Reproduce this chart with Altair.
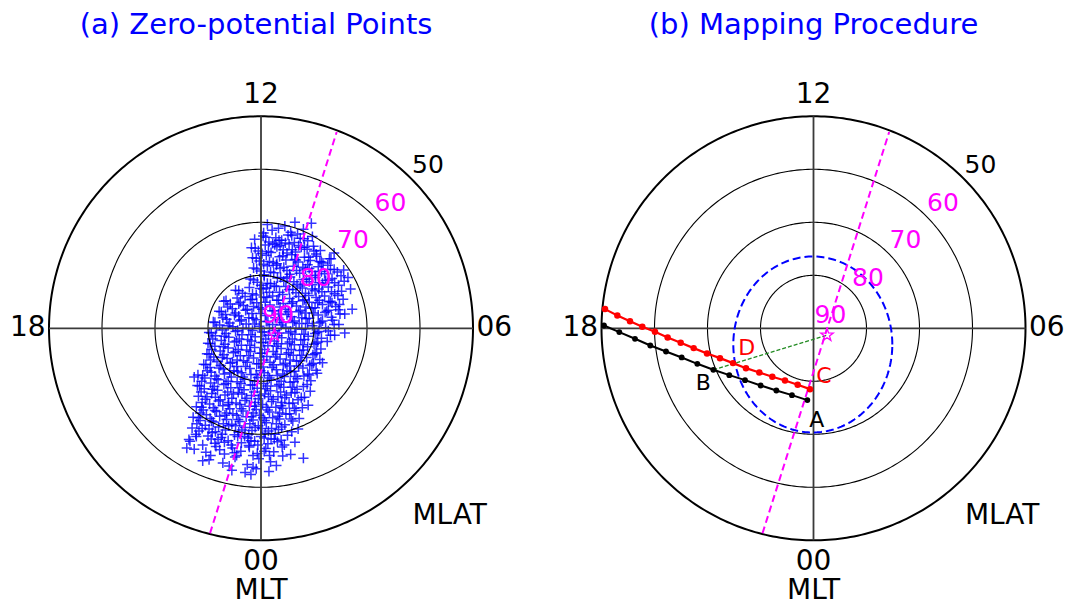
import altair as alt
import numpy as np
import pandas as pd

# ---------------- data ----------------
ring_mlat = [80, 70, 60, 50]
mlt_tick_hours = [12, 18, 0, 6]
mlt_tick_text = ["12", "18", "00", "06"]
mag_label_lat = [90, 80, 70, 60]      # magenta latitude labels
outer_label_lat = [50]                # black label

# Zero-potential points (panel a), position from the pole in degrees of colatitude
# east -> towards 06 MLT, north -> towards 12 MLT
zp_east = [
    6.4, 2.1, 4.5, 8.0, 0.5, 3.3, 5.6, 1.2,
    -1.2, 0.4, 1.5, 2.8, 3.9, 5.1, 6.3, 7.4, 8.8, 9.7, 2.2, 4.6, 6.9,
    -1.8, -0.5, 0.8, 1.9, 3.0, 4.2, 5.3, 6.5, 7.6, 8.7, 9.9, 11.2, 0.2, 2.6, 4.9, 7.1, 10.4,
    -1.6, -0.3, 1.0, 2.3, 3.5, 4.7, 5.8, 7.0, 8.2, 9.3, 10.5, 11.7, 12.9, 13.8, 0.5, 3.0, 6.4, 8.8, 11.1,
    -1.4, -0.1, 1.2, 2.4, 3.6, 4.9, 6.1, 7.3, 8.4, 9.6, 10.8, 12.0, 13.1, 14.4, 15.6, 0.6, 2.9, 5.4, 7.9, 10.2, 12.6,
    -2.0, -0.7, 0.6, 1.8, 3.1, 4.3, 5.5, 6.8, 8.0, 9.1, 10.3, 11.6, 12.8, 13.9, 15.1, 16.4, 0.0, 2.5, 4.9, 7.4, 9.7, 12.2, 14.6,
    -4.8, -3.5, -2.2, -0.9, 0.4, 1.6, 2.9, 4.1, 5.3, 6.6, 7.8, 9.0, 10.2, 11.5, 12.7, 13.9, 15.2, -3.0, -0.2, 2.2, 4.7, 7.1, 9.6, 12.0, 14.5,
    -7.0, -5.8, -4.5, -3.3, -2.0, -0.8, 0.5, 1.7, 3.0, 4.2, 5.4, 6.7, 7.9, 9.1, 10.4, 11.6, 12.8, 14.1, 15.5, -6.3, -3.9, -1.4, 1.1, 3.6, 6.0, 8.5, 11.0, 13.4,
    -7.9, -6.7, -5.4, -4.2, -2.9, -1.7, -0.4, 0.8, 2.1, 3.3, 4.6, 5.8, 7.1, 8.3, 9.6, 10.8, 12.1, 13.3, 14.6, 15.8, -7.2, -4.8, -2.3, 0.2, 2.7, 5.2, 7.7, 10.2, 12.7,
    -9.0, -7.8, -6.5, -5.3, -4.0, -2.8, -1.5, -0.3, 1.0, 2.2, 3.5, 4.7, 6.0, 7.2, 8.5, 9.7, 11.0, 12.2, 13.5, 14.7, -8.4, -5.9, -3.4, -0.9, 1.6, 4.1, 6.6, 9.1, 11.6,
    -9.8, -8.6, -7.3, -6.1, -4.8, -3.6, -2.3, -1.1, 0.2, 1.4, 2.7, 3.9, 5.2, 6.4, 7.7, 8.9, 10.2, 11.4, 12.7, 13.9, -9.1, -6.6, -4.1, -1.6, 0.9, 3.4, 5.9, 8.4, 10.9,
    -10.0, -8.7, -7.5, -6.2, -5.0, -3.7, -2.5, -1.2, 0.0, 1.3, 2.5, 3.8, 5.0, 6.3, 7.5, 8.8, 10.0, 11.3, 12.5, -9.3, -6.8, -4.3, -1.8, 0.7, 3.2, 5.7, 8.2, 10.7,
    -10.2, -8.9, -7.7, -6.4, -5.2, -3.9, -2.7, -1.4, -0.2, 1.1, 2.3, 3.6, 4.8, 6.1, 7.3, 8.6, 9.8, 11.1, -9.5, -7.0, -4.5, -2.0, 0.5, 3.0, 5.5, 8.0, 10.5,
    -10.8, -9.6, -8.3, -7.1, -5.8, -4.6, -3.3, -2.1, -0.8, 0.4, 1.7, 2.9, 4.2, 5.4, 6.7, 7.9, 9.2, 10.4, 11.6, -10.1, -7.6, -5.1, -2.6, -0.1, 2.4, 4.9, 7.4, 9.9,
    -11.9, -10.6, -9.4, -8.1, -6.9, -5.6, -4.4, -3.1, -1.9, -0.6, 0.6, 1.9, 3.1, 4.4, 5.6, 6.9, 8.1, 9.4, 10.6, -11.2, -8.7, -6.2, -3.7, -1.2, 1.3, 3.8, 6.3, 8.8,
    -12.0, -10.7, -9.5, -8.2, -7.0, -5.7, -4.5, -3.2, -2.0, -0.7, 0.5, 1.8, 3.0, 4.3, 5.5, 6.8, 8.0, 9.3, -11.3, -8.8, -6.3, -3.8, -1.3, 1.2, 3.7, 6.2, 8.7,
    -11.8, -10.5, -9.3, -8.0, -6.8, -5.5, -4.3, -3.0, -1.8, -0.5, 0.7, 2.0, 3.2, 4.5, 5.7, 7.0, 8.2, -11.1, -8.6, -6.1, -3.6, -1.1, 1.4, 3.9, 6.4,
    -12.2, -10.9, -9.7, -8.4, -7.2, -5.9, -4.7, -3.4, -2.2, -0.9, 0.3, 1.6, 2.8, 4.1, 5.3, 6.6, 7.8, 8.9, -11.5, -9.0, -6.5, -4.0, -1.5, 1.0, 3.5, 6.0,
    -12.8, -11.5, -10.3, -9.0, -7.8, -6.5, -5.3, -4.0, -2.8, -1.5, -0.3, 1.0, 2.2, 3.5, 4.7, 6.0, 7.2, -12.1, -9.6, -7.1, -4.6, -2.1, 0.4, 2.9, 5.4,
    -13.0, -11.7, -10.5, -9.2, -8.0, -6.7, -5.5, -4.2, -3.0, -1.7, -0.5, 0.8, 2.0, 3.3, 4.5, 5.8, 7.0, -12.3, -9.8, -7.3, -4.8, -2.3, 0.2, 2.7,
    -13.6, -12.2, -10.0, -8.7, -7.5, -6.2, -5.0, -3.7, -2.5, -1.2, 0.0, 1.3, 2.5, 3.8, 5.0, 6.4, -11.0, -8.1, -5.6, -3.1, -0.6, 1.9, 4.4,
    -12.6, -10.4, -8.5, -6.9, -5.4, -3.8, -2.3, -0.7, 0.9, 2.4, 4.0, 5.6, -9.5, -4.6, -1.5, 1.6,
    -9.8, -7.2, -4.9, -2.6, -0.4, 1.8, 4.1, -6.0, -1.5, 2.9,
    -5.5, -3.0, -0.9, 1.5, -1.9,
    -12.6, -13.4, -14.0, 16.9, 17.2, 15.8, 9.5, -11.0, 8.0,
    0.9, 3.4, 5.8, 8.1,
    -1.1, 1.4, 3.6, 5.9, 8.2, 10.0,
    -0.9, 1.6, 4.1, 6.6, 9.0, 11.4, 13.2,
    -0.8, 1.8, 4.3, 6.7, 9.1, 11.4, 13.8,
    -1.4, 1.2, 3.7, 6.2, 8.6, 11.0, 13.4, 15.7,
    -4.2, -1.6, 1.0, 3.5, 6.0, 8.4, 10.9, 13.3,
    -6.6, -4.2, -1.7, 0.8, 3.3, 5.8, 8.2, 10.7, 13.1, 14.8,
    -7.5, -5.0, -2.6, -0.1, 2.4, 4.9, 7.4, 9.9, 12.4, 14.9,
    -8.7, -6.2, -3.7, -1.2, 1.3, 3.8, 6.3, 8.8, 11.3, 13.8,
    -9.4, -6.9, -4.4, -1.9, 0.6, 3.1, 5.6, 8.1, 10.6, 13.1,
    -9.6, -7.1, -4.6, -2.1, 0.4, 2.9, 5.4, 7.9, 10.4,
    -9.8, -7.3, -4.8, -2.3, 0.2, 2.7, 5.2, 7.7, 10.2,
    -10.4, -7.9, -5.4, -2.9, -0.4, 2.1, 4.6, 7.1, 9.6,
    -11.0, -8.4, -5.9, -3.4, -0.9, 1.6, 4.1, 6.6, 9.1,
    -11.6, -9.1, -6.6, -4.1, -1.6, 0.9, 3.4, 5.9,
    -10.2, -7.7, -5.2, -2.7, -0.2, 2.3, 4.8, 7.6,
    -11.2, -8.7, -6.2, -3.7, -1.2, 1.3, 3.8, 6.3,
    -11.8, -9.3, -6.8, -4.3, -1.8, 0.7, 3.2, 5.7,
    -11.1, -8.6, -6.1, -3.6, -1.1, 1.4, 3.9,
    -9.4, -6.9, -4.4, -1.9, 0.6, 3.1,
    -7.8, -5.0, -2.2, 0.6,
]
zp_north = [
    20.0, 18.5, 19.3, 18.7, 18.0, 18.9, 18.1, 19.6,
    16.8, 17.4, 16.3, 17.1, 16.6, 17.6, 16.2, 17.0, 16.5, 17.3, 16.0, 16.1, 17.8,
    15.2, 14.6, 15.7, 14.3, 15.4, 14.8, 15.9, 14.4, 15.3, 14.9, 15.5, 14.7, 14.1, 15.8, 14.2, 15.6, 14.0,
    13.3, 12.7, 13.8, 12.4, 13.5, 12.9, 13.9, 12.5, 13.4, 12.8, 13.6, 12.3, 13.1, 14.2, 12.1, 12.2, 13.0, 12.0, 12.6,
    11.4, 10.8, 11.8, 10.5, 11.3, 10.9, 11.7, 10.4, 11.2, 10.7, 11.6, 10.3, 11.1, 10.6, 11.0, 10.1, 11.9, 10.2, 11.5, 10.0, 11.9,
    9.3, 8.7, 9.8, 8.4, 9.5, 8.9, 9.7, 8.3, 9.2, 8.8, 9.6, 8.5, 9.1, 8.6, 9.9, 9.6, 8.1, 8.0, 9.4, 8.0, 8.2, 9.0, 8.1,
    7.2, 6.6, 7.7, 6.3, 7.4, 6.8, 7.9, 6.4, 7.3, 6.7, 7.6, 6.2, 7.1, 6.9, 7.8, 6.5, 7.0, 6.0, 7.5, 6.1, 7.9, 6.0, 7.4, 6.1, 6.2,
    5.1, 4.6, 5.7, 4.3, 5.4, 4.8, 5.9, 4.4, 5.3, 4.7, 5.6, 4.2, 5.2, 4.9, 5.8, 4.5, 5.0, 4.1, 5.5, 4.0, 4.9, 4.1, 5.8, 4.0, 5.0, 4.0, 5.3, 4.8,
    3.2, 2.6, 3.7, 2.3, 3.4, 2.8, 3.9, 2.4, 3.3, 2.7, 3.6, 2.2, 3.1, 2.9, 3.8, 2.5, 3.0, 2.1, 3.5, 2.7, 2.0, 2.9, 2.0, 3.6, 2.0, 3.1, 2.0, 3.9, 3.4,
    1.2, 0.6, 1.7, 0.3, 1.4, 0.8, 1.9, 0.4, 1.3, 0.7, 1.6, 0.2, 1.1, 0.9, 1.8, 0.5, 1.0, 0.1, 1.5, 0.7, 0.0, 1.0, 0.0, 1.6, 0.0, 1.1, 0.0, 1.9, 1.4,
    -0.8, -1.4, -0.3, -1.7, -0.6, -1.2, -0.1, -1.6, -0.7, -1.3, -0.4, -1.8, -0.9, -1.1, -0.2, -1.5, -1.0, -1.9, -0.5, -1.3, -2.0, -1.0, -2.0, -0.4, -2.0, -0.9, -2.0, -0.1, -0.6,
    -2.8, -3.4, -2.3, -3.7, -2.6, -3.2, -2.1, -3.6, -2.7, -3.3, -2.4, -3.8, -2.9, -3.1, -2.2, -3.5, -3.0, -3.9, -2.5, -4.0, -3.0, -4.0, -2.4, -4.0, -2.9, -4.0, -2.1, -2.6,
    -4.8, -5.4, -4.3, -5.7, -4.6, -5.2, -4.1, -5.6, -4.7, -5.3, -4.4, -5.8, -4.9, -5.1, -4.2, -5.5, -5.0, -5.9, -6.0, -5.0, -6.0, -4.4, -6.0, -4.9, -6.0, -4.1, -4.6,
    -6.8, -7.4, -6.3, -7.7, -6.6, -7.2, -6.1, -7.6, -6.7, -7.3, -6.4, -7.8, -6.9, -7.1, -6.2, -7.5, -7.0, -7.9, -6.5, -8.0, -7.0, -8.0, -6.4, -8.0, -6.9, -8.0, -6.1, -6.6,
    -8.8, -9.4, -8.3, -9.7, -8.6, -9.2, -8.1, -9.6, -8.7, -9.3, -8.4, -9.8, -8.9, -9.1, -8.2, -9.5, -9.0, -9.9, -8.5, -10.0, -9.0, -10.0, -8.4, -10.0, -8.9, -10.0, -8.1, -8.6,
    -10.8, -11.4, -10.3, -11.7, -10.6, -11.2, -10.1, -11.6, -10.7, -11.3, -10.4, -11.8, -10.9, -11.1, -10.2, -11.5, -11.0, -11.9, -12.0, -11.0, -12.0, -10.4, -12.0, -10.9, -12.0, -10.1, -10.6,
    -12.8, -13.4, -12.3, -13.7, -12.6, -13.2, -12.1, -13.6, -12.7, -13.3, -12.4, -13.8, -12.9, -13.1, -12.2, -13.5, -13.0, -14.0, -13.0, -14.0, -12.4, -14.0, -12.9, -14.0, -12.1,
    -14.8, -15.4, -14.3, -15.7, -14.6, -15.2, -14.1, -15.6, -14.7, -15.3, -14.4, -15.8, -14.9, -15.1, -14.2, -15.5, -15.0, -14.5, -16.0, -15.0, -16.0, -14.4, -16.0, -14.9, -16.0, -14.1,
    -16.8, -17.4, -16.3, -17.7, -16.6, -17.2, -16.1, -17.6, -16.7, -17.3, -16.4, -17.8, -16.9, -17.1, -16.2, -17.5, -17.0, -18.0, -17.0, -18.0, -16.4, -18.0, -16.9, -18.0, -16.1,
    -18.8, -19.4, -18.3, -19.7, -18.6, -19.2, -18.1, -19.6, -18.7, -19.3, -18.4, -19.8, -18.9, -19.1, -18.2, -19.5, -19.0, -20.0, -19.0, -20.0, -18.4, -20.0, -18.9, -20.0,
    -21.0, -20.4, -20.3, -21.7, -20.6, -21.2, -20.1, -21.6, -20.7, -21.3, -20.4, -21.8, -20.9, -21.1, -20.2, -21.5, -22.0, -21.0, -22.0, -20.4, -22.0, -20.9, -22.0,
    -22.8, -23.4, -22.3, -23.7, -22.6, -23.2, -22.1, -23.6, -22.7, -23.3, -22.4, -23.8, -24.0, -24.0, -24.0, -24.0,
    -24.8, -25.4, -24.3, -25.7, -24.6, -25.2, -24.1, -26.0, -26.2, -25.9,
    -26.8, -27.2, -26.5, -27.0, -27.6,
    -9.2, -21.3, -22.6, 7.4, 3.6, -0.9, 19.8, -25.0, -24.5,
    17.2, 16.6, 17.5, 16.9,
    15.1, 14.5, 15.6, 14.8, 15.3, 14.6,
    13.2, 12.6, 13.7, 12.9, 13.4, 12.5, 13.1,
    11.2, 10.6, 11.5, 10.9, 11.3, 10.7, 11.1,
    9.1, 8.5, 9.6, 8.8, 9.3, 8.6, 9.4, 8.9,
    7.1, 6.5, 7.6, 6.8, 7.3, 6.6, 7.4, 6.9,
    5.2, 4.6, 5.5, 4.9, 5.3, 4.7, 5.4, 4.8, 5.1, 4.5,
    3.1, 2.5, 3.6, 2.8, 3.3, 2.6, 3.4, 2.9, 3.2, 2.7,
    1.1, 0.5, 1.6, 0.8, 1.3, 0.6, 1.4, 0.9, 1.2, 0.7,
    -0.9, -1.5, -0.4, -1.2, -0.7, -1.4, -0.6, -1.1, -0.8, -1.3,
    -2.9, -3.5, -2.4, -3.2, -2.7, -3.4, -2.6, -3.1, -2.8,
    -4.9, -5.5, -4.4, -5.2, -4.7, -5.4, -4.6, -5.1, -4.8,
    -6.9, -7.5, -6.4, -7.2, -6.7, -7.4, -6.6, -7.1, -6.8,
    -8.9, -9.5, -8.4, -9.2, -8.7, -9.4, -8.6, -9.1, -8.8,
    -10.9, -11.5, -10.4, -11.2, -10.7, -11.4, -10.6, -11.1,
    -12.9, -13.5, -12.4, -13.2, -12.7, -13.4, -12.6, -13.1,
    -14.9, -15.5, -14.4, -15.2, -14.7, -15.4, -14.6, -15.1,
    -16.9, -17.5, -16.4, -17.2, -16.7, -17.4, -16.6, -17.1,
    -18.9, -19.5, -18.4, -19.2, -18.7, -19.4, -18.6,
    -20.9, -21.5, -20.4, -21.2, -20.7, -21.4,
    -22.9, -23.5, -22.4, -23.2,
]

# pole of the magenta coordinate system and its meridian (same in both panels)
pole_east, pole_north = [2.55], [-1.28]
meridian_east = [-9.62, 14.28]
meridian_north = [-38.68, 37.04]

# panel b: mapped tracks
red_east = [-39.34, -37.01, -34.62, -32.30, -29.91, -27.52, -25.06, -22.61, -20.09,
            -17.64, -15.19, -12.74, -10.22, -7.77, -5.38, -2.99, -0.66]
red_north = [3.62, 2.42, 1.35, 0.28, -0.66, -1.73, -2.74, -3.74, -4.75,
             -5.63, -6.57, -7.52, -8.33, -9.15, -9.84, -10.66, -11.48]
black_east = [-39.53, -36.64, -33.68, -30.79, -27.83, -24.87, -21.92, -18.90,
              -15.88, -12.92, -9.97, -7.01, -4.06, -1.16]
black_north = [0.53, -0.72, -1.98, -3.24, -4.37, -5.50, -6.70, -7.83,
               -8.84, -9.78, -10.79, -11.73, -12.61, -13.55]
blue_center = [-0.13, -3.05]
blue_radii = [15.0, 16.6]
point_letters = ["D", "C", "B", "A"]
letter_east = [-12.6, 1.98, -20.8, 0.6]
letter_north = [-3.74, -9.09, -10.34, -17.26]
letter_colors = ["#ff0000", "#ff0000", "#000000", "#000000"]

titles = ["(a) Zero-potential Points", "(b) Mapping Procedure"]
title_east = [-0.94, 0.0]

# ---------------- layout ----------------
PX = 5.3            # pixels per degree of colatitude
W, H = 534, 607
CY = 328.3
FONT = "DejaVu Sans"
dom_y = [-(H - CY) / PX, CY / PX]


def xy(cx):
    return dict(
        x=alt.X("x:Q", scale=alt.Scale(domain=[-cx / PX, (W - cx) / PX], nice=False, zero=False), axis=None),
        y=alt.Y("y:Q", scale=alt.Scale(domain=dom_y, nice=False, zero=False), axis=None),
    )


th = np.linspace(0, 2 * np.pi, 361)
ring_rows = []
for lat in ring_mlat:
    r = 90 - lat
    for i, t in enumerate(th):
        ring_rows.append(dict(ring=lat, i=i, x=r * np.cos(t), y=r * np.sin(t)))
rings = pd.DataFrame(ring_rows)
axes_df = pd.DataFrame(dict(x=[-40, 0], x2=[40, 0], y=[0, -40], y2=[0, 40]))

ang = [np.deg2rad((h - 6) * 15) for h in mlt_tick_hours]
ticks_df = pd.DataFrame(dict(x=[44 * np.cos(a) for a in ang], y=[44 * np.sin(a) for a in ang], t=mlt_tick_text))
axis_names = pd.DataFrame(dict(x=[0, 35.6], y=[-49.65, -35.4], t=["MLT", "MLAT"]))

d45 = np.deg2rad(45)
mag_df = pd.DataFrame(dict(x=[(90 - v + 4) * np.cos(d45) for v in mag_label_lat],
                           y=[(90 - v + 4) * np.sin(d45) for v in mag_label_lat],
                           t=[str(v) for v in mag_label_lat]))
outer_df = pd.DataFrame(dict(x=[(90 - v + 4) * np.cos(d45) for v in outer_label_lat],
                             y=[(90 - v + 4) * np.sin(d45) for v in outer_label_lat],
                             t=[str(v) for v in outer_label_lat]))
meridian_df = pd.DataFrame(dict(x=meridian_east, y=meridian_north, i=[0, 1]))
pole_df = pd.DataFrame(dict(x=pole_east, y=pole_north))

STAR = ("M0,-1L0.236,-0.324L0.951,-0.309L0.382,0.124L0.588,0.809L0,0.4"
        "L-0.588,0.809L-0.382,0.124L-0.951,-0.309L-0.236,-0.324Z")
PLUS = "M-1,0L1,0M0,-1L0,1"


def common_layers(cx):
    e = xy(cx)
    inner = alt.Chart(rings[rings.ring != 50]).mark_line(color="black", strokeWidth=1.1).encode(
        **e, detail="ring:N", order=alt.Order("i:Q"))
    outer = alt.Chart(rings[rings.ring == 50]).mark_line(color="black", strokeWidth=2).encode(
        **e, detail="ring:N", order=alt.Order("i:Q"))
    axes = alt.Chart(axes_df).mark_rule(color="#3a3a3a", strokeWidth=1.8).encode(
        **e, x2="x2:Q", y2="y2:Q")
    return inner, outer, axes


def text_layers(cx, k):
    e = xy(cx)
    ticks = alt.Chart(ticks_df).mark_text(font=FONT, fontSize=28, color="black", align="center",
                                          baseline="middle").encode(**e, text="t:N")
    names = alt.Chart(axis_names).mark_text(font=FONT, fontSize=28, color="black", align="center",
                                            baseline="middle").encode(**e, text="t:N")
    mag = alt.Chart(mag_df).mark_text(font=FONT, fontSize=25, color="#ff00ff", align="center",
                                      baseline="middle", dx=2, dy=2).encode(**e, text="t:N")
    out = alt.Chart(outer_df).mark_text(font=FONT, fontSize=25, color="black", align="center",
                                        baseline="middle", dx=2, dy=2).encode(**e, text="t:N")
    tdf = pd.DataFrame(dict(x=[title_east[k]], y=[57.3], t=[titles[k]]))
    title = alt.Chart(tdf).mark_text(font=FONT, fontSize=29, color="#0000ff", align="center",
                                     baseline="middle").encode(**e, text="t:N")
    return ticks, names, mag, out, title


def meridian_layers(cx):
    e = xy(cx)
    mer = alt.Chart(meridian_df).mark_line(color="#ff00ff", strokeWidth=2, strokeDash=[7, 4]).encode(
        **e, order=alt.Order("i:Q"))
    star = alt.Chart(pole_df).mark_point(shape=STAR, size=170, filled=False, color="#ff00ff",
                                         strokeWidth=1.3, opacity=1).encode(**e)
    return mer, star


# ---- panel (a) ----
CXA = 261.0
ea = xy(CXA)
zp_df = pd.DataFrame(dict(x=zp_east, y=zp_north))
scatter = alt.Chart(zp_df).mark_point(shape=PLUS, size=105, filled=False, color="#0000ff",
                                      strokeWidth=1.5, opacity=0.8).encode(**ea)
inner_a, outer_a, axes_a = common_layers(CXA)
mer_a, star_a = meridian_layers(CXA)
ticks_a, names_a, mag_a, out_a, title_a = text_layers(CXA, 0)
panel_a = alt.layer(scatter, inner_a, outer_a, axes_a, mer_a, star_a, mag_a, out_a,
                    ticks_a, names_a, title_a).properties(width=W, height=H)

# ---- panel (b) ----
CXB = 813.5 - W
eb = xy(CXB)
inner_b, outer_b, axes_b = common_layers(CXB)
mer_b, star_b = meridian_layers(CXB)
ticks_b, names_b, mag_b, out_b, title_b = text_layers(CXB, 1)

ell_t = np.linspace(0, 2 * np.pi, 241)
ell_df = pd.DataFrame(dict(x=blue_center[0] + blue_radii[0] * np.cos(ell_t),
                           y=blue_center[1] + blue_radii[1] * np.sin(ell_t),
                           i=range(len(ell_t))))
ellipse = alt.Chart(ell_df).mark_line(color="#0000ff", strokeWidth=2, strokeDash=[8, 4]).encode(
    **eb, order=alt.Order("i:Q"))
green_df = pd.DataFrame(dict(x=[black_east[7], pole_east[0]], y=[black_north[7], pole_north[0]], i=[0, 1]))
green = alt.Chart(green_df).mark_line(color="#228b22", strokeWidth=1.3, strokeDash=[4, 2]).encode(
    **eb, order=alt.Order("i:Q"))
black_df = pd.DataFrame(dict(x=black_east, y=black_north, i=range(len(black_east))))
red_df = pd.DataFrame(dict(x=red_east, y=red_north, i=range(len(red_east))))
black_line = alt.Chart(black_df).mark_line(color="black", strokeWidth=2).encode(**eb, order=alt.Order("i:Q"))
black_pts = alt.Chart(black_df).mark_circle(color="black", size=34, opacity=1).encode(**eb)
red_line = alt.Chart(red_df).mark_line(color="#ff0000", strokeWidth=2.2).encode(**eb, order=alt.Order("i:Q"))
red_pts = alt.Chart(red_df).mark_circle(color="#ff0000", size=42, opacity=1).encode(**eb)
letters_df = pd.DataFrame(dict(x=letter_east, y=letter_north, t=point_letters, c=letter_colors))
letters = alt.Chart(letters_df).mark_text(font=FONT, fontSize=22, align="center", baseline="middle").encode(
    **eb, text="t:N", color=alt.Color("c:N", scale=None))

panel_b = alt.layer(inner_b, outer_b, axes_b, ellipse, mer_b, green, black_line, black_pts,
                    red_line, red_pts, star_b, mag_b, out_b, letters, ticks_b, names_b,
                    title_b).properties(width=W, height=H)

chart = alt.hconcat(panel_a, panel_b, spacing=0).resolve_scale(
    x="independent", y="independent").properties(padding=0, background="white").configure_view(stroke=None)

chart.save("out.html", embed_options={"renderer": "svg", "actions": False})
